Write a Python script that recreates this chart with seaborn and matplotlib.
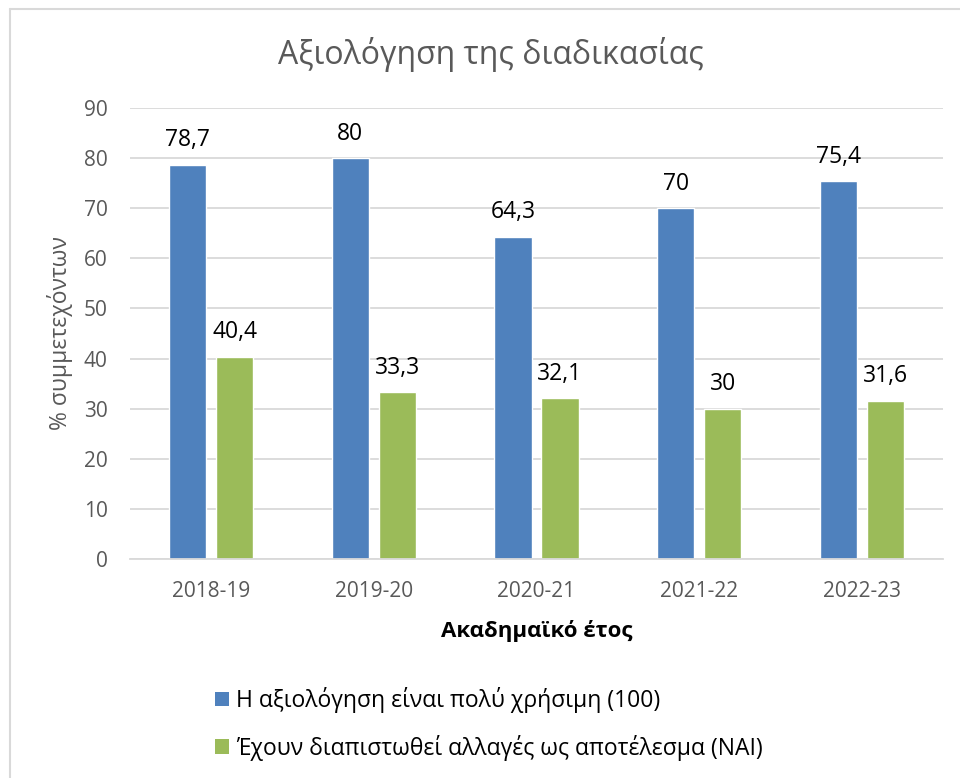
import matplotlib
matplotlib.use("Agg")
import matplotlib.pyplot as plt
import seaborn as sns
import pandas as pd
from matplotlib.lines import Line2D
from matplotlib.patches import Patch

# ---- data ----
years = ["2018-19", "2019-20", "2020-21", "2021-22", "2022-23"]
useful = [78.7, 80, 64.3, 70, 75.4]
changes = [40.4, 33.3, 32.1, 30, 31.6]
series_names = ["Η αξιολόγηση είναι πολύ χρήσιμη (100)",
                "Έχουν διαπιστωθεί αλλαγές ως αποτέλεσμα (ΝΑΙ)"]
y_ticks = [0, 10, 20, 30, 40, 50, 60, 70, 80, 90]
title = "Αξιολόγηση της διαδικασίας"
x_label = "Ακαδημαϊκό έτος"
y_label = "% συμμετεχόντων"

BLUE = "#4F81BD"
GREEN = "#9BBB59"
GRID = "#D9D9D9"
GRAY = "#595959"

sns.set_theme(style="white")
plt.rcParams["font.family"] = ["Open Sans", "DejaVu Sans"]

df = pd.DataFrame({
    "Year": years * 2,
    "Series": [series_names[0]] * len(years) + [series_names[1]] * len(years),
    "Value": useful + changes,
})

fig = plt.figure(figsize=(9.6, 7.78), dpi=100)
ax = fig.add_axes([130 / 960, 1 - 559 / 778, (943 - 130) / 960, (559 - 108) / 778])

sns.barplot(data=df, x="Year", y="Value", hue="Series", palette=[BLUE, GREEN],
            saturation=1, width=0.578, gap=0.21, ax=ax, legend=False, errorbar=None)

ax.set_ylim(0, 90)
ax.set_yticks(y_ticks)
ax.set_xlim(-0.5, len(years) - 0.5)

for cont, vals in zip(ax.containers, [useful, changes]):
    labels = [f"{v:g}".replace(".", ",") for v in vals]
    ax.bar_label(cont, labels=labels, padding=9, fontsize=16.5, color="black")

ax.yaxis.grid(True, color=GRID, lw=1.3)
ax.xaxis.grid(False)
ax.set_axisbelow(True)
for s in ["left", "right", "top"]:
    ax.spines[s].set_visible(False)
ax.spines["bottom"].set_color(GRID)
ax.spines["bottom"].set_linewidth(1.3)

ax.tick_params(axis="both", length=0, labelsize=15, labelcolor=GRAY)
ax.tick_params(axis="y", pad=16)
ax.tick_params(axis="x", pad=16)

ax.set_xlabel(x_label, fontsize=16, fontweight="bold", color="black")
ax.xaxis.label.set_va("center")
ax.xaxis.set_label_coords(0.5, (559 - 631) / 451)
ax.set_ylabel(y_label, fontsize=16.5, color=GRAY)
ax.yaxis.label.set_va("center")
ax.yaxis.set_label_coords((60 - 130) / 813, 0.5)

fig.text(491 / 960, 1 - 55 / 778, title, ha="center", va="center",
         fontsize=23, color=GRAY)

handles = [Patch(facecolor=BLUE, edgecolor="none"), Patch(facecolor=GREEN, edgecolor="none")]
fig.legend(handles, series_names, loc="center left",
           bbox_to_anchor=(215 / 960, 1 - 724 / 778), frameon=False,
           fontsize=16.5, handlelength=0.62, handleheight=0.62, handletextpad=0.3,
           labelspacing=0.95, borderpad=0, borderaxespad=0, labelcolor="black")

fig.add_artist(Line2D([10 / 960, 10 / 960], [0, 1 - 9 / 778], transform=fig.transFigure,
                      color=GRID, lw=1.5))
fig.add_artist(Line2D([10 / 960, 1], [1 - 9 / 778, 1 - 9 / 778], transform=fig.transFigure,
                      color=GRID, lw=1.5))

fig.savefig("out.png", dpi=100)
